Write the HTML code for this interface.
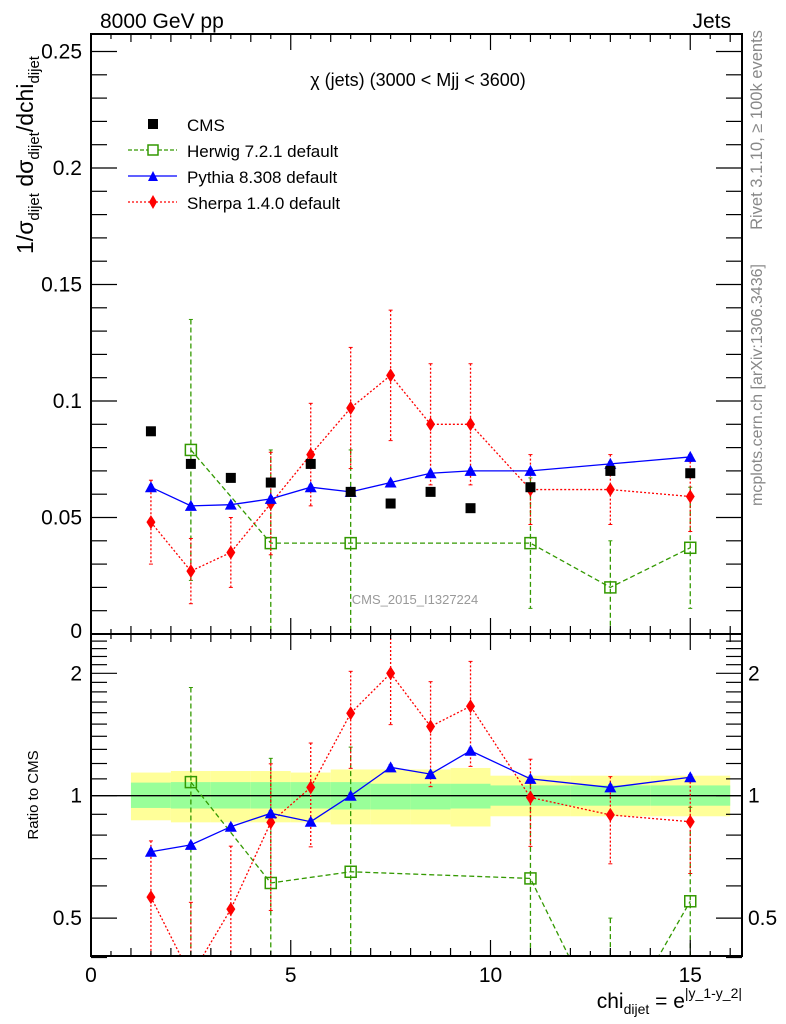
<!DOCTYPE html>
<html><head><meta charset="utf-8"><style>
body{margin:0;background:#fff}
svg{display:block;font-family:"Liberation Sans",Arial,sans-serif}
</style></head><body>
<svg id="chart" width="786" height="1024" viewBox="0 0 786 1024">
<g id="bg"></g><g id="marks"></g><g id="axes"></g>
<text x="100" y="28" font-size="21">8000 GeV pp</text>
<text x="731" y="28" font-size="21" text-anchor="end">Jets</text>
<text x="418" y="86" font-size="18" text-anchor="middle">χ (jets) (3000 &lt; Mjj &lt; 3600)</text>
<text x="415" y="604" font-size="13" fill="#999" text-anchor="middle">CMS_2015_I1327224</text>
<text transform="translate(762,130) rotate(-90)" font-size="16.5" fill="#888" text-anchor="middle">Rivet 3.1.10, ≥ 100k events</text>
<text transform="translate(762,385) rotate(-90)" font-size="16" fill="#888" text-anchor="middle">mcplots.cern.ch [arXiv:1306.3436]</text>
<text transform="translate(33,155) rotate(-90)" font-size="23" text-anchor="middle">1/σ<tspan font-size="15" dy="6">dijet</tspan><tspan dy="-6"> dσ</tspan><tspan font-size="15" dy="6">dijet</tspan><tspan dy="-6">/dchi</tspan><tspan font-size="15" dy="6">dijet</tspan></text>
<text transform="translate(38,795) rotate(-90)" font-size="15" text-anchor="middle">Ratio to CMS</text>
<text x="742" y="1008" font-size="21" text-anchor="end">chi<tspan font-size="14" dy="6">dijet</tspan><tspan dy="-6"> = e</tspan><tspan font-size="14" dy="-10">|y_1-y_2|</tspan></text>
<g id="legend"></g>
</svg>
<script>
const xs=[1.5,2.5,3.5,4.5,5.5,6.5,7.5,8.5,9.5,11,13,15];
const binLo=[1,2,3,4,5,6,7,8,9,10,12,14];
const binHi=[2,3,4,5,6,7,8,9,10,12,14,16];
const cms=[0.087,0.073,0.067,0.065,0.073,0.061,0.056,0.061,0.054,0.063,0.070,0.069];
const hwX=[2.5,4.5,6.5,11,13,15];
const hw=[0.079,0.039,0.039,0.039,0.020,0.037];
const hwErr=[0.056,0.040,0.040,0.028,0.020,0.026];
const py=[0.063,0.055,0.0555,0.058,0.063,0.061,0.065,0.069,0.070,0.070,0.073,0.076];
const sh=[0.048,0.027,0.035,0.056,0.077,0.097,0.111,0.090,0.090,0.062,0.062,0.059];
const shErr=[0.018,0.014,0.015,0.022,0.022,0.026,0.028,0.026,0.026,0.015,0.015,0.015];
const rPy=[0.728,0.757,0.839,0.905,0.863,1.0,1.174,1.13,1.29,1.10,1.048,1.11];
const rSh=[0.563,0.36,0.526,0.86,1.048,1.595,2.0,1.48,1.66,0.99,0.897,0.863];
const rHw=[1.08,0.61,0.65,0.626,0.25,0.55];
const yelHi=[1.14,1.15,1.15,1.15,1.14,1.16,1.16,1.16,1.17,1.12,1.12,1.12];
const yelLo=[0.87,0.86,0.86,0.86,0.86,0.85,0.85,0.85,0.84,0.89,0.89,0.89];
const grnHi=[1.077,1.08,1.08,1.08,1.08,1.08,1.07,1.07,1.07,1.06,1.06,1.06];
const grnLo=[0.933,0.93,0.93,0.93,0.93,0.925,0.925,0.925,0.93,0.945,0.945,0.945];
const xTicks=[0,5,10,15];
const yTicks=[0.05,0.1,0.15,0.2,0.25];
const yTickLabels=["0.05","0.1","0.15","0.2","0.25"];
const rTicks=[0.5,1,2];

const L=91,R=742,T=34,MB=634,RB=956;
const X=v=>L+v*39.95;
const Y=v=>MB-v*2330;
const RY=v=>795.7-Math.log2(v)*122.4;
const NS="http://www.w3.org/2000/svg";
function mk(p,tag,a){const e=document.createElementNS(NS,tag);for(const k in a)e.setAttribute(k,a[k]);p.appendChild(e);return e;}
const bg=document.getElementById('bg'),mg=document.getElementById('marks'),ax=document.getElementById('axes');

xs.forEach((x,i)=>{
 let r=mk(bg,'rect',{x:X(binLo[i]),y:RY(yelHi[i]),width:X(binHi[i])-X(binLo[i]),height:RY(yelLo[i])-RY(yelHi[i]),fill:'#ffff99'});
 
 
 r=mk(bg,'rect',{x:X(binLo[i]),y:RY(grnHi[i]),width:X(binHi[i])-X(binLo[i]),height:RY(grnLo[i])-RY(grnHi[i]),fill:'#99ff99'});
 
 
});
mk(bg,'line',{x1:L,x2:R,y1:RY(1),y2:RY(1),stroke:'#000','stroke-width':1.3});

function clipY(y,top,bot){return Math.max(top,Math.min(bot,y));}
function series(xv,yv,yf,top,bot,color,dash,kind,err,name){
 const g=mk(mg,'g',{});
 
 
 const pts=xv.map((x,i)=>[X(x),yf(yv[i])]);
 if(err) xv.forEach((x,i)=>{
  const hi=clipY(yf(err[i][1]),top,bot),lo=clipY(yf(err[i][0]),top,bot);
  mk(g,'line',{x1:X(x),x2:X(x),y1:hi,y2:lo,stroke:color,'stroke-width':1.3,'stroke-dasharray':dash||''});
  mk(g,'line',{x1:X(x)-2,x2:X(x)+2,y1:hi,y2:hi,stroke:color,'stroke-width':1});
  mk(g,'line',{x1:X(x)-2,x2:X(x)+2,y1:lo,y2:lo,stroke:color,'stroke-width':1});
 });
 const cid='c'+Math.round(top);
 if(!document.getElementById(cid)){const cp=mk(mg,'clipPath',{id:cid});mk(cp,'rect',{x:L,y:top,width:R-L,height:bot-top});}
 if(kind!=='sq') mk(g,'polyline',{points:pts.map(p=>p.join(',')).join(' '),fill:'none',stroke:color,'stroke-width':1.3,'stroke-dasharray':dash||'','clip-path':`url(#${cid})`});
 pts.forEach(([px,pyy])=>{
  if(pyy<top||pyy>bot) return;
  let m;
  if(kind==='sq') m=mk(g,'rect',{x:px-5,y:pyy-5,width:10,height:10,fill:'#000'});
  else if(kind==='osq') m=mk(g,'rect',{x:px-5.5,y:pyy-5.5,width:11,height:11,fill:'none',stroke:color,'stroke-width':1.5});
  else if(kind==='tri') m=mk(g,'polygon',{points:`${px-6},${pyy+5} ${px+6},${pyy+5} ${px},${pyy-6}`,fill:color});
  else m=mk(g,'polygon',{points:`${px},${pyy-7} ${px+4.5},${pyy} ${px},${pyy+7} ${px-4.5},${pyy}`,fill:color});
  
  
 });
}
series(hwX,hw,Y,T,MB,'#339900','5,3','osq',hw.map((v,i)=>[v-hwErr[i],v+hwErr[i]]),'herwig-series');
series(xs,sh,Y,T,MB,'#ff0000','2,2','dia',sh.map((v,i)=>[v-shErr[i],v+shErr[i]]),'sherpa-series');
series(xs,py,Y,T,MB,'#0000ff','','tri',py.map(v=>[v-0.001,v+0.001]),'pythia-series');
series(xs,cms,Y,T,MB,'#000','','sq',null,'cms-data');
series(hwX,rHw,RY,MB,RB,'#339900','5,3','osq',rHw.map((v,i)=>[Math.max(0.01,v*(1-hwErr[i]/hw[i])),v*(1+hwErr[i]/hw[i])]),'herwig-ratio');
series(xs,rSh,RY,MB,RB,'#ff0000','2,2','dia',rSh.map((v,i)=>[v*(1-shErr[i]/sh[i]),v*(1+shErr[i]/sh[i])]),'sherpa-ratio');
series(xs,rPy,RY,MB,RB,'#0000ff','','tri',rPy.map(v=>[v*0.985,v*1.015]),'pythia-ratio');

[[T,MB],[MB,RB]].forEach(([t,b])=>mk(ax,'rect',{x:L,y:t,width:R-L,height:b-t,fill:'none',stroke:'#000','stroke-width':2}));
for(let v=0;v<=16.3;v+=0.5){
 const major=v%5===0, len=major?16:(v%1===0?8:5);
 [[T,1],[MB,-1],[MB,1],[RB,-1]].forEach(([y,s])=>mk(ax,'line',{x1:X(v),x2:X(v),y1:y,y2:y+s*len,stroke:'#000','stroke-width':1.2}));
}
xTicks.forEach(v=>{const t=mk(ax,'text',{x:X(v),y:982,'font-size':21,'text-anchor':'middle'});t.textContent=v;
 
 });
for(let k=1;k<=25;k++){const v=k/100,major=k%5===0,len=major?26:16;
 mk(ax,'line',{x1:L,x2:L+len,y1:Y(v),y2:Y(v),stroke:'#000','stroke-width':1.2});
 mk(ax,'line',{x1:R,x2:R-len,y1:Y(v),y2:Y(v),stroke:'#000','stroke-width':1.2});}
yTicks.forEach((v,i)=>{const t=mk(ax,'text',{x:82,y:Y(v)+7,'font-size':21,'text-anchor':'end'});t.textContent=yTickLabels[i];
 
 });
{const t=mk(ax,'text',{x:82,y:MB+4,'font-size':21,'text-anchor':'end'});t.textContent='0';}
const minor=[0.4,0.5,0.6,0.7,0.8,0.9,1,1.1,1.2,1.3,1.4,1.5,1.6,1.7,1.8,1.9,2,2.1,2.2,2.3,2.4,2.5];
minor.forEach(v=>{const len=rTicks.includes(v)?26:16;
 mk(ax,'line',{x1:L,x2:L+len,y1:RY(v),y2:RY(v),stroke:'#000','stroke-width':1.2});
 mk(ax,'line',{x1:R,x2:R-len,y1:RY(v),y2:RY(v),stroke:'#000','stroke-width':1.2});});
rTicks.forEach(v=>{[[82,'end'],[748,'start']].forEach(([x,a])=>{const t=mk(ax,'text',{x:x,y:RY(v)+7,'font-size':21,'text-anchor':a});t.textContent=v;
 
 });});
const lg=document.getElementById('legend');
const ent=[['CMS','#000','','sq',131],['Herwig 7.2.1 default','#339900','4,2','osq',157],['Pythia 8.308 default','#0000ff','','tri',183],['Sherpa 1.4.0 default','#ff0000','2,2','dia',209]];
ent.forEach(([lab,c,d,k,y])=>{
 const g=mk(lg,'g',{});
 
 
 const cx=153;
 if(k!=='sq') mk(g,'line',{x1:128,x2:177,y1:y-7,y2:y-7,stroke:c,'stroke-width':1.3,'stroke-dasharray':d});
 if(k==='sq') mk(g,'rect',{x:cx-5,y:y-12,width:10,height:10,fill:'#000'});
 else if(k==='osq') mk(g,'rect',{x:cx-5,y:y-12,width:10,height:10,fill:'#fff',stroke:c,'stroke-width':1.5});
 else if(k==='tri') mk(g,'polygon',{points:`${cx-5},${y-2} ${cx+5},${y-2} ${cx},${y-12}`,fill:c});
 else mk(g,'polygon',{points:`${cx},${y-14} ${cx+4},${y-7} ${cx},${y} ${cx-4},${y-7}`,fill:c});
 const t=mk(g,'text',{x:187,y:y,'font-size':17});t.textContent=lab;
});
</script>
</body></html>
